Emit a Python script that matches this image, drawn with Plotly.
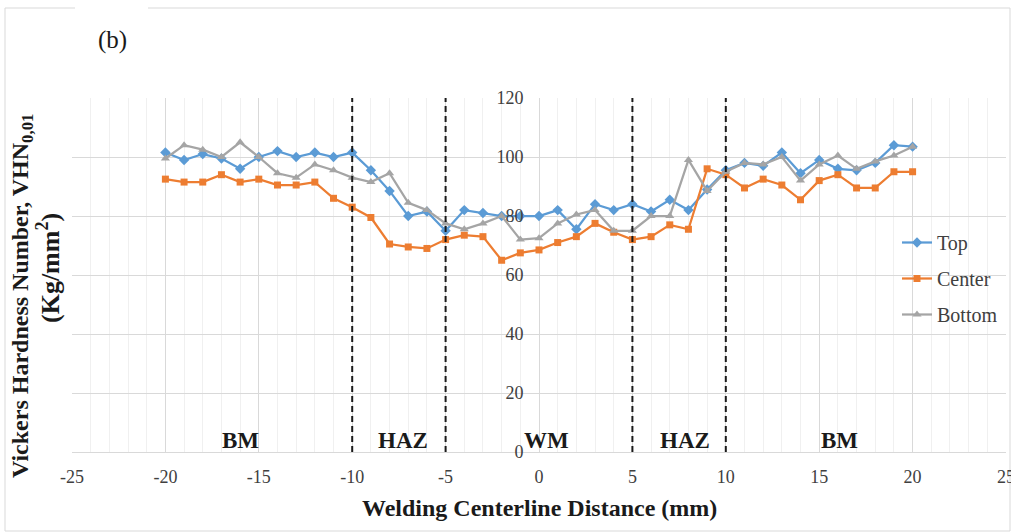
import plotly.graph_objects as go

# Distance from the welding centerline (mm)
distance = list(range(-20, 21))

# Vickers hardness profiles (Kg/mm^2)
top = [101.5, 99, 101, 99.5, 96, 100, 102, 100, 101.5, 100,
       101.5, 95.5, 88.5, 80, 81.5, 75, 82, 81, 80, 80,
       80, 82, 75.5, 84, 82, 84, 81.5, 85.5, 82, 89,
       95.5, 98, 97, 101.5, 94.5, 99, 96, 95.5, 98, 104, 103.5]
center = [92.5, 91.5, 91.5, 94, 91.5, 92.5, 90.5, 90.5, 91.5, 86,
          83, 79.5, 70.5, 69.5, 69, 72, 73.5, 73, 65, 67.5,
          68.5, 71, 73, 77.5, 74.5, 72, 73, 77, 75.5, 96,
          94, 89.5, 92.5, 90.5, 85.5, 92, 94, 89.5, 89.5, 95, 95]
bottom = [99.5, 104, 102.5, 100, 105, 100, 94.5, 93, 97.5, 95.5,
          93, 91.5, 94.5, 84.5, 82, 77.5, 75.5, 77.5, 80, 72,
          72.5, 77.5, 80.5, 82, 75, 75, 80, 80, 99, 88.5,
          95, 98, 97.5, 100, 92, 97.5, 100.5, 96, 98.5, 100.5, 103.5]

# Axis ticks (hyphen-minus labels)
x_ticks = [-25, -20, -15, -10, -5, 0, 5, 10, 15, 20, 25]
x_tick_text = ["-25", "-20", "-15", "-10", "-5", "0", "5", "10", "15", "20", "25"]

# Zone boundaries and zone labels
boundaries = [-10, -5, 5, 10]
zone_names = ["BM", "HAZ", "WM", "HAZ", "BM"]
zone_x = [-16, -7.3, 0.4, 7.8, 16.1]

W, H = 1011, 532
ML, MR, MT, MB = 72, 5, 98, 80
PW = W - ML - MR
PH = H - MT - MB


def px_x(px):
    return (px - ML) / PW


def px_y(py):
    return (H - MB - py) / PH


SERIF = "Liberation Serif, Times New Roman, serif"
INK = "#1a1a1a"

fig = go.Figure()

series = [
    ("Top", top, "#5B9BD5", "diamond", 8),
    ("Center", center, "#ED7D31", "square", 7),
    ("Bottom", bottom, "#A5A5A5", "triangle-up", 8),
]
for i, (name, vals, color, symbol, size) in enumerate(series):
    fig.add_trace(go.Scatter(
        x=distance, y=vals, name=name, mode="lines+markers",
        legendgroup=f"g{i}",
        line=dict(color=color, width=2.25),
        marker=dict(symbol=symbol, size=size, color=color),
    ))

shapes = []
for b in boundaries:
    shapes.append(dict(type="line", xref="x", yref="paper", x0=b, x1=b, y0=0, y1=1,
                       line=dict(color=INK, width=2, dash="6px,4px")))
# chart-area frame
shapes.append(dict(type="rect", xref="paper", yref="paper", layer="below",
                   x0=px_x(5), x1=px_x(1010), y0=px_y(531), y1=px_y(8),
                   line=dict(color="#d9d9d9", width=1)))
shapes.append(dict(type="rect", xref="paper", yref="paper", layer="below",
                   x0=px_x(75), x1=px_x(148), y0=px_y(14), y1=px_y(2),
                   line=dict(width=0), fillcolor="white"))

annotations = []
for name, zx in zip(zone_names, zone_x):
    annotations.append(dict(x=zx, y=4, xref="x", yref="y", text=f"<b>{name}</b>",
                            showarrow=False, xanchor="center", yanchor="middle",
                            font=dict(family=SERIF, size=23, color=INK)))
annotations.append(dict(x=px_x(22), y=px_y(296), xref="paper", yref="paper",
                        text="<b>Vickers Hardness Number, VHN<sub>0,01</sub></b>",
                        textangle=-90, showarrow=False, xanchor="center", yanchor="middle",
                        font=dict(family=SERIF, size=24, color=INK)))
annotations.append(dict(x=px_x(48), y=px_y(268), xref="paper", yref="paper",
                        text="<b>(Kg/mm<sup>2</sup>)</b>",
                        textangle=-90, showarrow=False, xanchor="center", yanchor="middle",
                        font=dict(family=SERIF, size=26, color=INK)))
annotations.append(dict(x=px_x(539), y=px_y(508), xref="paper", yref="paper",
                        text="<b>Welding Centerline Distance (mm)</b>", showarrow=False,
                        xanchor="center", yanchor="middle",
                        font=dict(family=SERIF, size=24, color=INK)))
annotations.append(dict(x=px_x(112), y=px_y(40), xref="paper", yref="paper",
                        text="(b)", showarrow=False, xanchor="center", yanchor="middle",
                        font=dict(family=SERIF, size=25, color=INK)))

fig.update_layout(
    width=W, height=H,
    margin=dict(l=ML, r=MR, t=MT, b=MB),
    paper_bgcolor="white", plot_bgcolor="white",
    font=dict(family=SERIF, color="#404040", size=18),
    xaxis=dict(range=[-25, 25], tickmode="array", tickvals=x_ticks, ticktext=x_tick_text,
               showgrid=True, gridcolor="#d9d9d9", automargin=False,
               ticklabeloverflow="allow",
               gridwidth=1, zeroline=False, showline=True, linecolor="#d9d9d9",
               ticks="outside", ticklen=8, tickcolor="rgba(0,0,0,0)",
               tickfont=dict(family=SERIF, size=18, color="#404040"),
               minor=dict(dtick=1, tick0=0, showgrid=True, gridcolor="#f0f0f0", gridwidth=1)),
    yaxis=dict(range=[0, 120], dtick=20, showgrid=True, gridcolor="#d9d9d9", automargin=False,
               zeroline=False, showline=False, anchor="free", position=0.5,
               ticks="outside", ticklen=12, tickcolor="rgba(0,0,0,0)",
               tickfont=dict(family=SERIF, size=18, color="#404040")),
    legend=dict(x=px_x(897), y=px_y(223), xanchor="left", yanchor="top",
                bgcolor="rgba(255,255,255,0)", tracegroupgap=7,
                font=dict(family=SERIF, size=20, color="#404040")),
    shapes=shapes,
    annotations=annotations,
)

fig.write_html("out.html")
